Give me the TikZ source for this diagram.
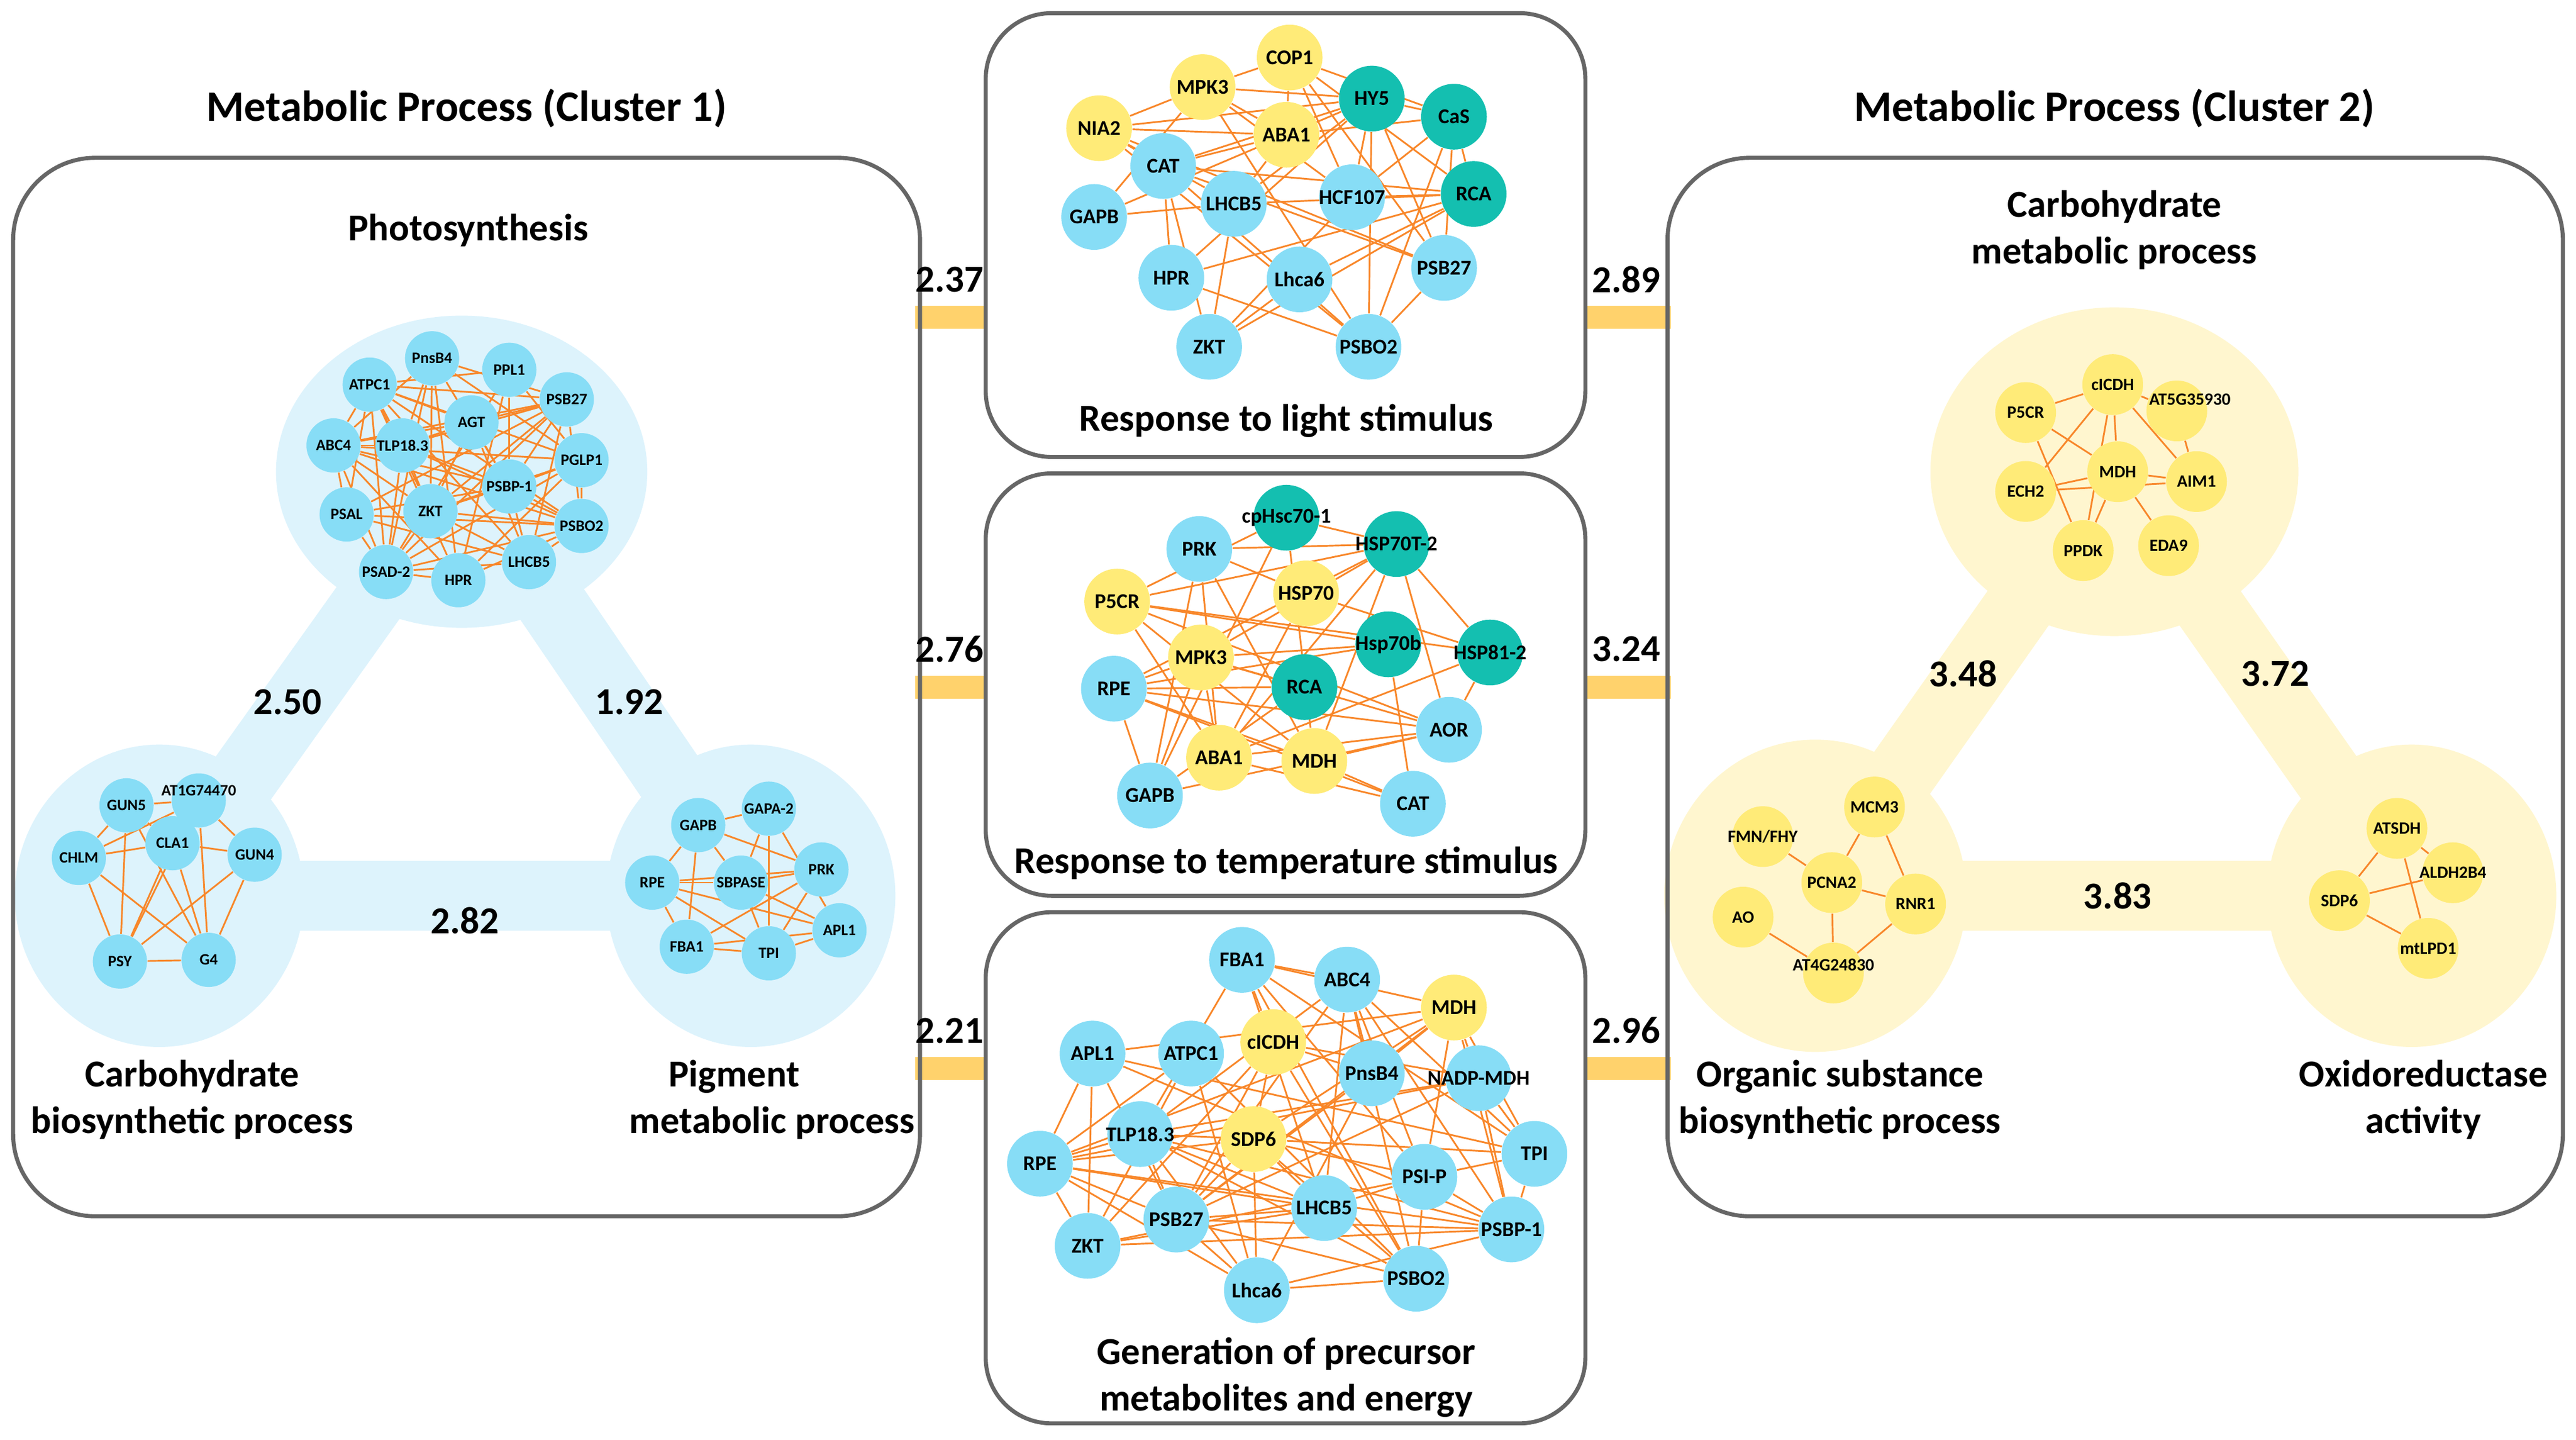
\documentclass[tikz,border=0pt]{standalone}
\usepackage{fontspec}
\setmainfont{Carlito}
\definecolor{nb}{HTML}{87DDF6}
\definecolor{nt}{HTML}{14BFB0}
\definecolor{ny}{HTML}{FFEB78}
\definecolor{bb}{HTML}{DDF3FC}
\definecolor{yb}{HTML}{FFF6CF}
\definecolor{eo}{HTML}{F8872A}
\definecolor{bar}{HTML}{FFD26C}
\definecolor{fr}{HTML}{666666}
\pgfdeclarelayer{blob}\pgfdeclarelayer{edge}
\pgfsetlayers{blob,edge,main}
\newcommand\gn[4]{\node[#1,label={[#1t]center:#4}] (#2) at (#3) {};}
\begin{document}
\begin{tikzpicture}[x=0.02cm,y=-0.02cm,
 bn/.style={circle,fill=nb,inner sep=0pt,minimum size=0.8cm},
 tn/.style={bn,fill=nt}, yn/.style={bn,fill=ny},
 bnt/.style={font=\bfseries\fontsize{7.3}{8}\selectfont,inner sep=0pt},
 tnt/.style={bnt}, ynt/.style={bnt},
 sn/.style={circle,fill=nb,inner sep=0pt,minimum size=0.66cm},
 snt/.style={font=\bfseries\fontsize{5.5}{6}\selectfont,inner sep=0pt},
 sy/.style={sn,fill=ny,minimum size=0.74cm},
 syt/.style={font=\bfseries\fontsize{6}{7}\selectfont,inner sep=0pt},
 e/.style={draw=eo,line width=0.6pt},
 frame/.style={draw=fr,line width=1.4pt,rounded corners=1cm},
 pan/.style={draw=fr,line width=1.4pt,rounded corners=0.8cm},
 big/.style={font=\bfseries\fontsize{13.2}{16}\selectfont,align=center},
 ttl/.style={font=\bfseries\fontsize{15}{18}\selectfont},
 band/.style={line width=0.85cm,line cap=butt}]
\useasboundingbox (0,0) rectangle (1568,876);
% ---------- frames and titles
\draw[frame] (8,96) rectangle (560,740);
\draw[frame] (1015,96) rectangle (1560,740);
\draw[pan] (600,8) rectangle (965,278);
\draw[pan] (600,288) rectangle (965,545);
\draw[pan] (600,555) rectangle (965,866);
\node[ttl] (T1) at (284,66) {Metabolic Process (Cluster 1)};
\node[ttl] (T2) at (1287,66) {Metabolic Process (Cluster 2)};
\node[big] (P1) at (783,256) {Response to light stimulus};
\node[big] (P2) at (783,525) {Response to temperature stimulus};
\node[big] (P3) at (783,838) {Generation of precursor\\metabolites and energy};
% ---------- bars
\begin{pgfonlayer}{blob}
\foreach \yy in {193,418,650}{
 \fill[bar] (557,\yy-7) rectangle (601,\yy+7);
 \fill[bar] (964,\yy-7) rectangle (1017,\yy+7);}
% cluster 1 blobs
\fill[bb] (281,287) ellipse [x radius=113, y radius=95];
\fill[bb] (97,545) ellipse [x radius=88, y radius=92];
\fill[bb] (457,545) ellipse [x radius=88, y radius=92];
\draw[bb,band] (281,287) -- (97,545) -- (457,545) -- cycle;
% cluster 2 blobs
\fill[yb] (1287,287) ellipse [x radius=112, y radius=100];
\fill[yb] (1105,545) ellipse [x radius=92, y radius=95];
\fill[yb] (1468,545) ellipse [x radius=88, y radius=92];
\draw[yb,band] (1287,287) -- (1105,545) -- (1468,545) -- cycle;
\end{pgfonlayer}
\node[big] (n1) at (578,170) {2.37};
\node[big] (n2) at (578,395) {2.76};
\node[big] (n3) at (578,627) {2.21};
\node[big] (n4) at (990,170) {2.89};
\node[big] (n5) at (990,395) {3.24};
\node[big] (n6) at (990,627) {2.96};
\node[big] (L1) at (285,140) {Photosynthesis};
\node[big] (L2) at (175,427) {2.50};
\node[big] (L3) at (383,427) {1.92};
\node[big] (L4) at (283,560) {2.82};
\node[big] (L5) at (117,669) {Carbohydrate\\biosynthetic process};
\node[big] (L6) at (470,669) {\hspace*{-2em}Pigment\\metabolic process};
\node[big] (R1) at (1287,140) {Carbohydrate\\metabolic process};
\node[big] (R2) at (1195,410) {3.48};
\node[big] (R3) at (1385,410) {3.72};
\node[big] (R4) at (1289,545) {3.83};
\node[big] (R5) at (1120,669) {Organic substance\\biosynthetic process};
\node[big] (R6) at (1475,669) {Oxidoreductase\\activity};
% ---------- photosynthesis
\gn{sn}{p1}{263,218}{PnsB4}\gn{sn}{p2}{310,225}{PPL1}\gn{sn}{p3}{225,234}{ATPC1}
\gn{sn}{p4}{345,243}{PSB27}\gn{sn}{p5}{287,257}{AGT}\gn{sn}{p6}{203,271}{ABC4}
\gn{sn}{p7}{245,271}{TLP18.3}\gn{sn}{p8}{354,280}{PGLP1}\gn{sn}{p9}{310,296}{PSBP-1}
\gn{sn}{p10}{262,311}{ZKT}\gn{sn}{p11}{211,313}{PSAL}\gn{sn}{p12}{354,320}{PSBO2}
\gn{sn}{p13}{235,348}{PSAD-2}\gn{sn}{p14}{279,353}{HPR}\gn{sn}{p15}{322,342}{LHCB5}
% carbohydrate biosynthetic
\gn{sn}{c1}{77,490}{GUN5}\gn{sn}{c2}{121,487}{}\node[snt] at (121,481) {AT1G74470};
\gn{sn}{c3}{105,513}{CLA1}
\gn{sn}{c4}{48,522}{CHLM}\gn{sn}{c5}{155,520}{GUN4}\gn{sn}{c6}{73,585}{PSY}\gn{sn}{c7}{127,584}{G4}
% pigment
\gn{sn}{g1}{425,502}{GAPB}\gn{sn}{g2}{468,492}{GAPA-2}\gn{sn}{g3}{500,529}{PRK}
\gn{sn}{g4}{397,537}{RPE}\gn{sn}{g5}{451,537}{SBPASE}\gn{sn}{g6}{511,566}{APL1}
\gn{sn}{g7}{418,576}{FBA1}\gn{sn}{g8}{468,580}{TPI}
% carbohydrate metabolic
\gn{sy}{k1}{1286,234}{cICDH}\gn{sy}{k2}{1233,251}{P5CR}\gn{sy}{k3}{1325,250}{}
\node[syt] at (1333,243) {AT5G35930};
\gn{sy}{k4}{1233,299}{ECH2}\gn{sy}{k5}{1289,287}{MDH}\gn{sy}{k6}{1337,293}{AIM1}
\gn{sy}{k7}{1268,335}{PPDK}\gn{sy}{k8}{1320,332}{EDA9}
% organic
\gn{sy}{o1}{1141,491}{MCM3}\gn{sy}{o2}{1073,509}{FMN/FHY}\gn{sy}{o3}{1115,537}{PCNA2}
\gn{sy}{o4}{1166,550}{RNR1}\gn{sy}{o5}{1061,558}{AO}\gn{sy}{o6}{1116,592}{}
\node[syt] at (1116,587) {AT4G24830};
% oxido
\gn{sy}{x1}{1459,504}{ATSDH}\gn{sy}{x2}{1493,531}{ALDH2B4}\gn{sy}{x3}{1424,548}{SDP6}\gn{sy}{x4}{1478,577}{mtLPD1}
% ---------- panel light
\gn{yn}{l1}{785,35}{COP1}\gn{yn}{l2}{732,53}{MPK3}\gn{tn}{l3}{835,60}{HY5}\gn{tn}{l4}{885,71}{CaS}
\gn{yn}{l5}{669,78}{NIA2}\gn{yn}{l6}{783,82}{ABA1}\gn{bn}{l7}{708,101}{CAT}\gn{tn}{l8}{897,118}{RCA}
\gn{bn}{l9}{823,120}{HCF107}\gn{bn}{l10}{751,124}{LHCB5}\gn{bn}{l11}{666,132}{GAPB}\gn{bn}{l12}{791,170}{Lhca6}
\gn{bn}{l13}{713,169}{HPR}\gn{bn}{l14}{879,163}{PSB27}\gn{bn}{l15}{736,211}{ZKT}\gn{bn}{l16}{833,211}{PSBO2}
% panel temperature
\gn{tn}{t1}{783,315}{cpHsc70-1}\gn{tn}{t2}{850,331}{HSP70T-2}\gn{bn}{t3}{730,334}{PRK}
\gn{yn}{t4}{680,366}{P5CR}\gn{yn}{t5}{795,361}{HSP70}\gn{yn}{t6}{731,400}{MPK3}
\gn{tn}{t7}{845,392}{Hsp70b}\gn{tn}{t8}{907,397}{HSP81-2}\gn{bn}{t9}{678,419}{RPE}
\gn{tn}{t10}{794,418}{RCA}\gn{bn}{t11}{882,444}{AOR}\gn{yn}{t12}{742,461}{ABA1}
\gn{yn}{t13}{800,463}{MDH}\gn{bn}{t14}{700,484}{GAPB}\gn{bn}{t15}{860,489}{CAT}
% panel generation
\gn{bn}{q1}{756,584}{FBA1}\gn{bn}{q2}{820,596}{ABC4}\gn{yn}{q3}{885,613}{MDH}
\gn{bn}{q4}{665,641}{APL1}\gn{bn}{q5}{725,641}{ATPC1}\gn{yn}{q6}{775,634}{cICDH}
\gn{bn}{q7}{835,653}{PnsB4}\gn{bn}{q8}{900,656}{NADP-MDH}\gn{bn}{q9}{633,708}{RPE}
\gn{bn}{q10}{694,690}{TLP18.3}\gn{yn}{q11}{763,693}{SDP6}\gn{bn}{q12}{867,716}{PSI-P}
\gn{bn}{q13}{934,702}{TPI}\gn{bn}{q14}{806,735}{LHCB5}\gn{bn}{q15}{662,758}{ZKT}
\gn{bn}{q16}{716,742}{PSB27}\gn{bn}{q17}{920,748}{PSBP-1}\gn{bn}{q18}{765,785}{Lhca6}
\gn{bn}{q19}{862,778}{PSBO2}
% ---------- edges
\begin{pgfonlayer}{edge}
\pgfmathsetseed{11}
\foreach \i in {1,...,15}{\foreach \j in {1,...,15}{\ifnum\i<\j
 \pgfmathtruncatemacro\r{100*rnd}\ifnum\r<60 \draw[e] (p\i) -- (p\j);\fi\fi}}
\foreach \i in {1,...,16}{\foreach \j in {1,...,16}{\ifnum\i<\j
 \pgfmathtruncatemacro\r{100*rnd}\ifnum\r<42 \draw[e] (l\i) -- (l\j);\fi\fi}}
\foreach \i in {1,...,15}{\foreach \j in {1,...,15}{\ifnum\i<\j
 \pgfmathtruncatemacro\r{100*rnd}\ifnum\r<38 \draw[e] (t\i) -- (t\j);\fi\fi}}
\foreach \i in {1,...,19}{\foreach \j in {1,...,19}{\ifnum\i<\j
 \pgfmathtruncatemacro\r{100*rnd}\ifnum\r<45 \draw[e] (q\i) -- (q\j);\fi\fi}}
\foreach \a/\b in {c1/c2,c1/c7,c2/c4,c2/c6,c4/c3,c4/c7,c3/c5,c5/c6,c6/c7,c1/c6,c1/c4,c2/c5,c2/c7,c3/c6,c3/c7,c4/c6,c5/c7,c1/c3}
 \draw[e] (\a) -- (\b);
\foreach \a/\b in {g1/g2,g1/g3,g1/g4,g1/g7,g1/g5,g2/g5,g2/g8,g2/g6,g3/g5,g3/g4,g3/g7,g3/g8,g5/g4,g5/g6,g5/g8,g4/g6,g4/g7,g4/g8,g7/g8,g7/g6,g8/g6}
 \draw[e] (\a) -- (\b);
\foreach \a/\b in {k2/k1,k2/k5,k2/k7,k1/k4,k1/k5,k1/k7,k1/k3,k1/k6,k3/k6,k5/k6,k5/k4,k4/k6,k5/k7,k5/k8}
 \draw[e] (\a) -- (\b);
\foreach \a/\b in {o2/o3,o3/o1,o1/o4,o3/o4,o3/o6,o4/o6,o5/o6,x1/x3,x1/x2,x1/x4,x3/x2,x3/x4}
 \draw[e] (\a) -- (\b);
\end{pgfonlayer}
\end{tikzpicture}
\end{document}
